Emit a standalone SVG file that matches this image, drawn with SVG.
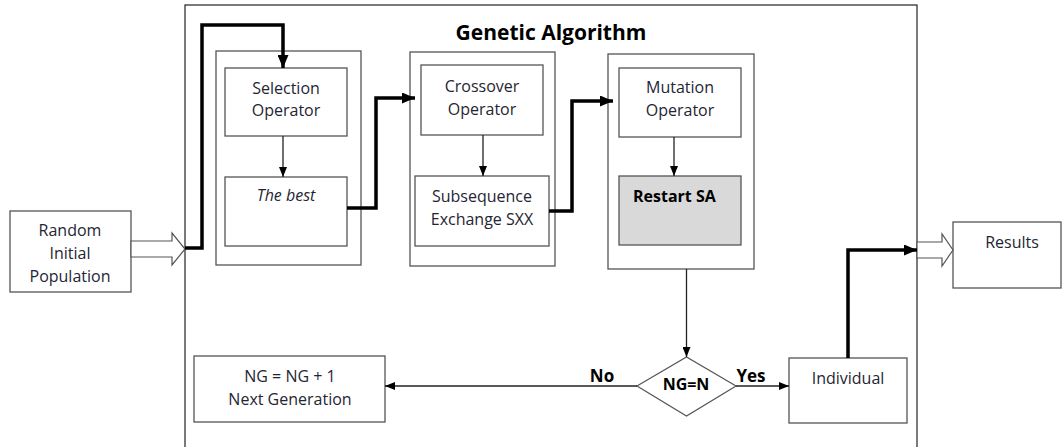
<svg xmlns="http://www.w3.org/2000/svg" width="1062" height="447" viewBox="0 0 1062 447">
<defs>
<marker id="ah" markerWidth="10" markerHeight="8" refX="10" refY="4" orient="auto" markerUnits="userSpaceOnUse"><path d="M0,0 L10,4 L0,8 Z" fill="#000"/></marker>
<marker id="ahb" markerWidth="13" markerHeight="11" refX="13" refY="5.5" orient="auto" markerUnits="userSpaceOnUse"><path d="M0,0 L13,5.5 L0,11 Z" fill="#000"/></marker>
</defs>
<style>
.box{fill:#fff;stroke:#555;stroke-width:1.3}
.t{font-family:"Open Sans",sans-serif;font-size:16px;fill:#1f2533;text-anchor:middle}
.b{font-weight:bold;fill:#000}
.lbl{font-size:17px}
.thin{fill:none;stroke:#222;stroke-width:1.3}
.thick{fill:none;stroke:#000;stroke-width:3.5}
.hollow{fill:#fff;stroke:#555;stroke-width:1.2}
</style>
<rect width="1062" height="447" fill="#fff"/>
<g id="ga">
<rect x="185" y="5" width="732" height="446" fill="none" stroke="#222" stroke-width="1.2"/>
<text x="551" y="40" class="t b" style="font-size:21px">Genetic Algorithm</text>
</g>
<g id="random">
<rect class="box" x="10" y="211" width="121" height="81"/>
<text class="t" x="70" y="236">Random</text>
<text class="t" x="70" y="259">Initial</text>
<text class="t" x="70" y="282">Population</text>
</g>
<g id="selection-group"><rect class="box" x="216" y="51" width="145" height="214"/></g>
<g id="selection"><rect class="box" x="225" y="68" width="122" height="68"/>
<text class="t" x="286" y="94">Selection</text><text class="t" x="286" y="116">Operator</text></g>
<g id="best"><rect class="box" x="225" y="177" width="122" height="69"/>
<text class="t" x="286" y="201" font-style="italic">The best</text></g>
<g id="crossover-group"><rect class="box" x="410" y="52" width="145" height="214"/></g>
<g id="crossover"><rect class="box" x="421" y="65" width="122" height="70"/>
<text class="t" x="482" y="92">Crossover</text><text class="t" x="482" y="115">Operator</text></g>
<g id="sxx"><rect class="box" x="415" y="176" width="134" height="70"/>
<text class="t" x="482" y="202">Subsequence</text><text class="t" x="482" y="225">Exchange SXX</text></g>
<g id="mutation-group"><rect class="box" x="608" y="54" width="146" height="215"/></g>
<g id="mutation"><rect class="box" x="619" y="68" width="122" height="69"/>
<text class="t" x="680" y="93">Mutation</text><text class="t" x="680" y="116">Operator</text></g>
<g id="restart"><rect x="619" y="176" width="122" height="69" fill="#d9d9d9" stroke="#555" stroke-width="1.3"/>
<text class="t b" x="633" y="202" style="text-anchor:start">Restart SA</text></g>
<g id="decision"><path d="M637,386 L686.5,357 L736,386 L686.5,416 Z" fill="#fff" stroke="#555" stroke-width="1.2"/>
<text class="t b" x="686" y="390">NG=N</text></g>
<g id="individual"><rect class="box" x="789" y="358" width="118" height="65"/>
<text class="t" x="848" y="384">Individual</text></g>
<g id="nextgen"><rect class="box" x="194" y="356" width="191" height="66"/>
<text class="t" x="290" y="382">NG = NG + 1</text><text class="t" x="290" y="405">Next Generation</text></g>
<g id="results"><rect class="box" x="953" y="222" width="108" height="66"/>
<text class="t" x="1012" y="248">Results</text></g>
<g id="connectors">
<path class="hollow" d="M131,241 L172,241 L172,233 L185,249 L172,265 L172,257 L131,257 Z"/>
<path class="hollow" d="M917,242 L942,242 L942,234 L953,250 L942,266 L942,258 L917,258 Z"/>
<path class="thick" d="M185,248 L202,248 L202,25 L283,25 L283,68" marker-end="url(#ahb)"/>
<path class="thick" d="M347,208 L376,208 L376,98 L415,98" marker-end="url(#ahb)"/>
<path class="thick" d="M549,211 L572,211 L572,101 L613,101" marker-end="url(#ahb)"/>
<path class="thick" d="M848,358 L848,250 L917,250" marker-end="url(#ahb)"/>
<path class="thin" d="M283,136 L283,177" marker-end="url(#ah)"/>
<path class="thin" d="M483,135 L483,176" marker-end="url(#ah)"/>
<path class="thin" d="M674,137 L674,176" marker-end="url(#ah)"/>
<path class="thin" d="M686.5,269 L686.5,357" marker-end="url(#ah)"/>
<path class="thin" d="M736,386 L789,386" marker-end="url(#ah)"/>
<path class="thin" d="M637,386 L385,386" marker-end="url(#ah)"/>
<text class="t b lbl" x="602" y="382">No</text>
<text class="t b lbl" x="751" y="382">Yes</text>
</g>
</svg>
